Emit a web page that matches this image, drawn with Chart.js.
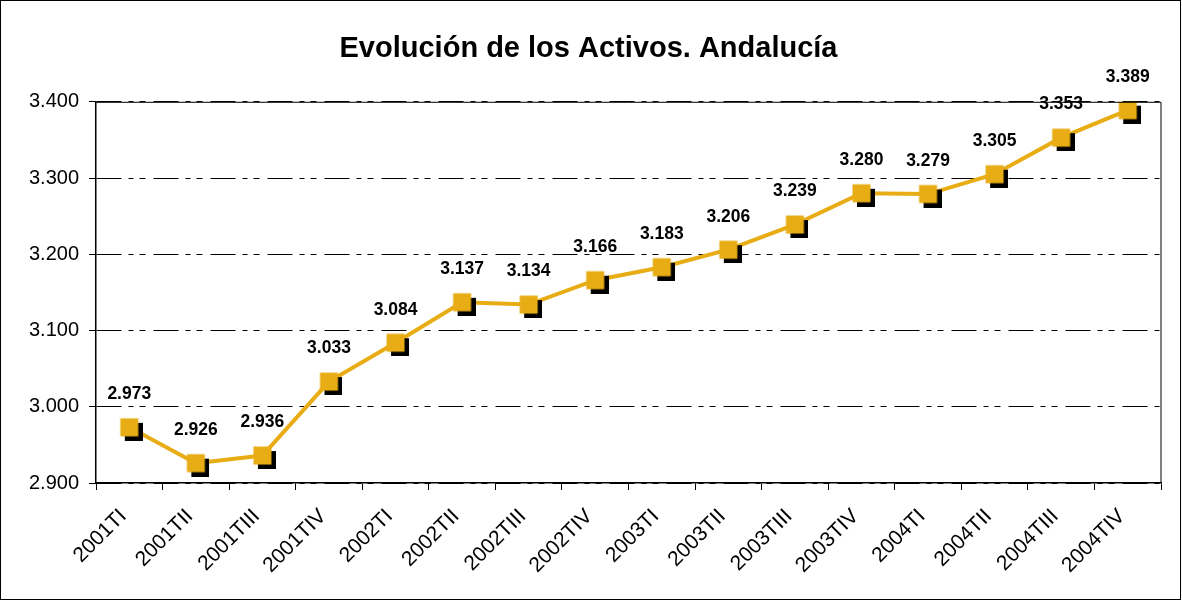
<!DOCTYPE html>
<html>
<head>
<meta charset="utf-8">
<script src="https://cdn.jsdelivr.net/npm/chart.js@4/dist/chart.umd.min.js"></script>
<style>
    body { margin: 0; background: #ffffff; }
    #wrap { width: 1182px; height: 602px; position: relative; }
</style>
</head>
<body>
<div id="wrap"><canvas id="activosChart"></canvas></div>
<script>
const trimestres = ['2001TI', '2001TII', '2001TIII', '2001TIV', '2002TI', '2002TII', '2002TIII', '2002TIV',
    '2003TI', '2003TII', '2003TIII', '2003TIV', '2004TI', '2004TII', '2004TIII', '2004TIV'];
const activos = [2973, 2926, 2936, 3033, 3084, 3137, 3134, 3166, 3183, 3206, 3239, 3280, 3279, 3305, 3353, 3389];
const ejeY = { min: 2900, max: 3400, paso: 100 };
const titulo = 'Evolución de los Activos. Andalucía';

const naranja = '#E8AD15';
const fuente = 'Arial, "Liberation Sans", sans-serif';

function formatoMiles(v) {
    // 3400 -> "3.400"
    return Math.round(v).toString().replace(/\B(?=(\d{3})+(?!\d))/g, '.');
}

// marcador cuadrado con sombra negra
function crearMarcador() {
    const c = document.createElement('canvas');
    c.width = 27;
    c.height = 27;
    const g = c.getContext('2d');
    g.fillStyle = '#000000';
    g.fillRect(9, 9, 18, 18);
    g.fillStyle = naranja;
    g.fillRect(4.5, 4.5, 18, 18);
    return c;
}

const pluginMarco = {
    id: 'marco',
    afterDraw(chart) {
        const ctx = chart.ctx;
        const area = chart.chartArea;
        ctx.save();
        ctx.strokeStyle = '#000000';
        ctx.lineWidth = 1;
        ctx.strokeRect(0.5, 0.5, chart.width - 2, chart.height - 3);
        ctx.beginPath();
        ctx.moveTo(area.left, area.top + 0.5);
        ctx.lineTo(area.right, area.top + 0.5);
        ctx.lineTo(area.right, area.bottom);
        ctx.stroke();
        ctx.restore();
    }
};

const pluginEtiquetas = {
    id: 'etiquetas',
    afterDatasetsDraw(chart) {
        const ctx = chart.ctx;
        const meta = chart.getDatasetMeta(0);
        ctx.save();
        ctx.font = 'bold 17.5px ' + fuente;
        ctx.fillStyle = '#000000';
        ctx.textAlign = 'center';
        ctx.textBaseline = 'middle';
        meta.data.forEach((p, i) => {
            ctx.fillText(formatoMiles(activos[i]), p.x, p.y - 33);
        });
        ctx.restore();
    }
};

const ctx = document.getElementById('activosChart').getContext('2d');
new Chart(ctx, {
    type: 'line',
    data: {
        labels: trimestres,
        datasets: [{
            data: activos,
            borderColor: naranja,
            borderWidth: 4,
            tension: 0,
            pointStyle: crearMarcador(),
            pointRadius: 13.5,
            pointHoverRadius: 13.5
        }]
    },
    options: {
        responsive: true,
        maintainAspectRatio: false,
        animation: false,
        layout: {
            padding: { left: 16, right: 21, top: 0, bottom: 0 }
        },
        plugins: {
            legend: { display: false },
            tooltip: { enabled: false },
            title: {
                display: true,
                text: titulo,
                color: '#000000',
                font: { family: fuente, size: 29, weight: 'bold' },
                padding: { top: 32, bottom: 35 }
            }
        },
        scales: {
            x: {
                offset: true,
                grid: {
                    offset: true,
                    drawOnChartArea: false,
                    color: '#000000',
                    tickLength: 7,
                    tickWidth: 1
                },
                border: { color: '#000000', width: 1.5 },
                ticks: {
                    color: '#000000',
                    font: { family: fuente, size: 21 },
                    minRotation: 45,
                    maxRotation: 45,
                    autoSkip: false,
                    padding: 14,
                    labelOffset: -6
                },
                afterFit(scale) { scale.height = 119; }
            },
            y: {
                min: ejeY.min,
                max: ejeY.max,
                ticks: {
                    stepSize: ejeY.paso,
                    color: '#000000',
                    font: { family: fuente, size: 20 },
                    padding: 10,
                    callback: v => formatoMiles(v)
                },
                grid: {
                    color: '#000000',
                    lineWidth: 1,
                    tickLength: 7,
                    tickColor: '#000000'
                },
                border: { color: '#000000', width: 1.5, dash: [25, 7, 5, 6, 6, 8] },
                afterFit(scale) { scale.width = 80; }
            }
        }
    },
    plugins: [pluginMarco, pluginEtiquetas]
});
</script>
</body>
</html>
